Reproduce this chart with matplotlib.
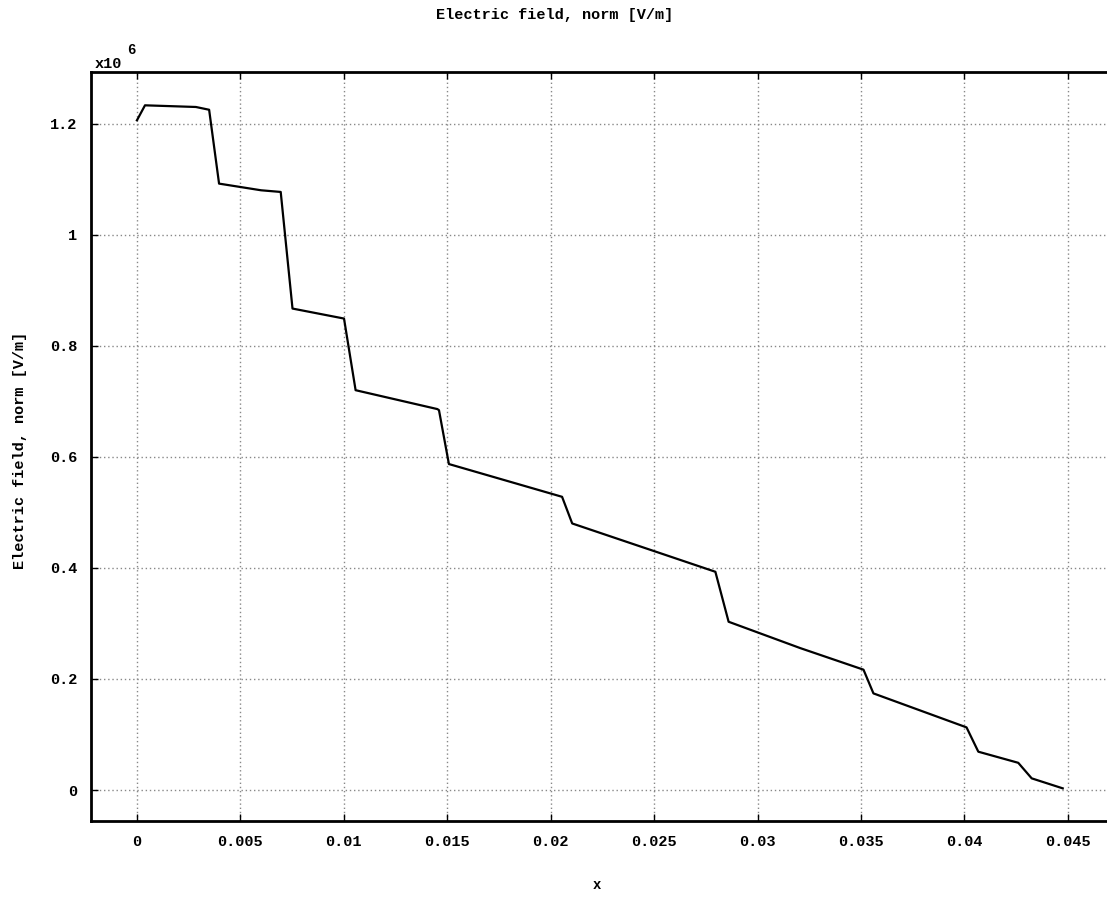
import matplotlib
matplotlib.use("Agg")
import matplotlib.pyplot as plt
from matplotlib.ticker import FuncFormatter

###### DATA
# position along x [m]
x_pos = [0.0, 0.00039, 0.00285, 0.00349, 0.00397, 0.0060, 0.00695, 0.00752,
         0.01001, 0.01057, 0.01452, 0.0146, 0.01508, 0.02055, 0.02104,
         0.02796, 0.0286, 0.03206, 0.03512, 0.0356, 0.0401, 0.04067,
         0.0426, 0.04325, 0.04475]
# electric field norm, in units of 1e6 V/m
e_norm = [1.206, 1.233, 1.230, 1.225, 1.092, 1.080, 1.077, 0.867,
          0.849, 0.720, 0.686, 0.684, 0.587, 0.528, 0.480,
          0.393, 0.303, 0.2556, 0.2167, 0.174, 0.1128, 0.069,
          0.049, 0.021, 0.003]

x_ticks = [0, 0.005, 0.01, 0.015, 0.02, 0.025, 0.03, 0.035, 0.04, 0.045]
y_ticks = [0, 0.2, 0.4, 0.6, 0.8, 1.0, 1.2]

title_txt = "Electric field, norm [V/m]"
ylabel_txt = "Electric field, norm [V/m]"
xlabel_txt = "x"

###### PLOT
plt.rcParams['font.family'] = ['Liberation Mono', 'DejaVu Sans Mono']
plt.rcParams['font.weight'] = 'bold'

W, H = 1107, 900
fig = plt.figure(figsize=(W / 100, H / 100), dpi=100)
ax = fig.add_axes([91 / W, (H - 821) / H, 1 - 91 / W, (821 - 72) / H])

ax.plot(x_pos, e_norm, color='black', lw=1.6)

ax.set_xlim(-0.00222, 0.04689)
ax.set_ylim(-0.0558, 1.293)
ax.set_xticks(x_ticks)
ax.set_yticks(y_ticks)
ax.xaxis.set_major_formatter(FuncFormatter(lambda v, p: f"{v:g}"))
ax.yaxis.set_major_formatter(FuncFormatter(lambda v, p: f"{v:g}"))
ax.tick_params(direction='in', length=5, width=1, labelsize=11, pad=10,
               top=True, right=False, colors='black')
ax.tick_params(axis='y', pad=10)

ax.grid(True, color='#888888', linestyle=(0, (1, 2)), linewidth=1)
for side in ('left', 'top', 'bottom'):
    ax.spines[side].set_linewidth(2)
ax.spines['right'].set_visible(False)

fig.text(555 / W, 1 - 15 / H, title_txt, ha='center', va='center', fontsize=11)
fig.text(597 / W, 1 - 885 / H, xlabel_txt, ha='center', va='center', fontsize=10)
fig.text(20 / W, 1 - 450 / H, ylabel_txt, ha='center', va='center',
         rotation=90, fontsize=11)
fig.text(95 / W, 1 - 64 / H, "x10", ha='left', va='center', fontsize=11)
fig.text(127 / W, 1 - 50 / H, "6", ha='left', va='center', fontsize=10)

fig.savefig("out.png", dpi=100)
